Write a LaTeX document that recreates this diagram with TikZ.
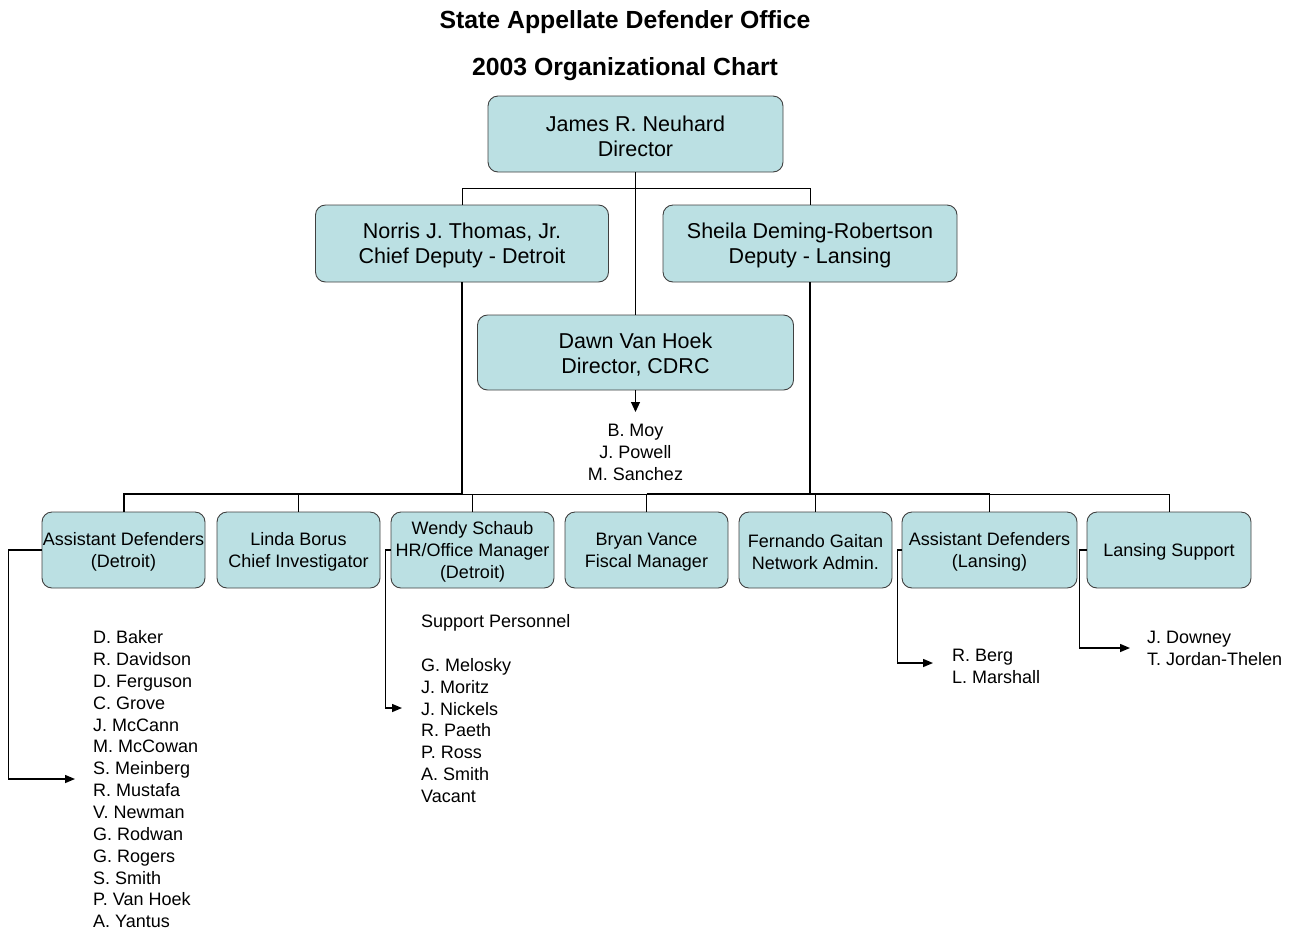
\documentclass[tikz,border=0pt]{standalone}
\usepackage{fontspec}
\setmainfont{Liberation Sans}
\usetikzlibrary{arrows.meta}
\definecolor{boxfill}{HTML}{BBE0E3}
\definecolor{boxline}{HTML}{404040}
\newcommand{\bigtop}{\rule{0pt}{19.7pt}}
\newcommand{\smalltop}{\rule{0pt}{17.1pt}}
\begin{document}
\begin{tikzpicture}[x=1pt,y=-1pt,
  orgbox/.style={draw=boxline, line width=0.9pt, fill=boxfill, rounded corners=10pt, align=center, inner sep=0pt, text=black},
  bigbox/.style={orgbox, minimum height=76pt, font=\fontsize{21.5}{25.5}\selectfont},
  smallbox/.style={orgbox, minimum height=76pt, font=\fontsize{18}{22}\selectfont},
  titletext/.style={inner sep=0pt, font=\fontsize{24.8}{28}\selectfont\bfseries},
  listtext/.style={inner sep=0pt, font=\fontsize{18}{21.85}\selectfont},
  conn/.style={line width=1pt},
  heavyconn/.style={line width=2pt},
  arr/.style={line width=1.5pt, -{Triangle[length=10pt,width=8pt]}}
]
\useasboundingbox (0,0) rectangle (1298,930);

% titles
\node[titletext] (t1) at (625,22) {State Appellate Defender Office};
\node[titletext] (t2) at (625,69) {2003 Organizational Chart};

% upper boxes
\node[bigbox, minimum width=295pt] (dir) at (635.5,134) {\bigtop James R. Neuhard\\Director};
\node[bigbox, minimum width=293pt, minimum height=77pt] (thomas) at (462,243.5) {\bigtop Norris J. Thomas, Jr.\\Chief Deputy - Detroit};
\node[bigbox, minimum width=294pt, minimum height=77pt] (deming) at (810,243.5) {\bigtop Sheila Deming-Robertson\\Deputy - Lansing};
\node[bigbox, minimum width=316pt, minimum height=75pt] (vanhoek) at (635.5,352.5) {\bigtop Dawn Van Hoek\\Director, CDRC};

% CDRC staff
\node[listtext, align=center, anchor=north, inner ysep=12pt] (cdrc) at (635.5,412) {B. Moy\\J. Powell\\M. Sanchez};

% bottom boxes
\node[smallbox, minimum width=163pt] (b1) at (123.5,550) {\smalltop Assistant Defenders\\(Detroit)};
\node[smallbox, minimum width=163pt] (b2) at (298.5,550) {\smalltop Linda Borus\\Chief Investigator};
\node[smallbox, minimum width=163pt] (b3) at (472.5,550) {\smalltop Wendy Schaub\\HR/Office Manager\\(Detroit)};
\node[smallbox, minimum width=163pt] (b4) at (646.5,550) {\smalltop Bryan Vance\\Fiscal Manager};
\node[smallbox, minimum width=153pt] (b5) at (815.5,550) {\smalltop Fernando Gaitan\\Network Admin.};
\node[smallbox, minimum width=175pt] (b6) at (989.5,550) {\smalltop Assistant Defenders\\(Lansing)};
\node[smallbox, minimum width=164pt] (b7) at (1169,550) {\smalltop Lansing Support};

% staff lists
\node[listtext, align=left, anchor=north west] (adlist) at (93,630.4) {D. Baker\\R. Davidson\\D. Ferguson\\C. Grove\\J. McCann\\M. McCowan\\S. Meinberg\\R. Mustafa\\V. Newman\\G. Rodwan\\G. Rogers\\S. Smith\\P. Van Hoek\\A. Yantus};
\node[listtext, align=left, anchor=north west] (splist) at (421,614.4) {Support Personnel\\[21.85pt]G. Melosky\\J. Moritz\\J. Nickels\\R. Paeth\\P. Ross\\A. Smith\\Vacant};
\node[listtext, align=left, anchor=north west] (allist) at (952,648.6) {R. Berg\\L. Marshall};
\node[listtext, align=left, anchor=north west] (lslist) at (1147,630.6) {J. Downey\\T. Jordan-Thelen};

% connectors, upper part
\coordinate (topbus) at (635.5,188);
\draw[conn] (dir.south) -- (vanhoek.north);
\draw[conn] (thomas.north) -- (thomas.north |- topbus) -- (deming.north |- topbus) -- (deming.north);
\draw[conn, -{Triangle[length=10pt,width=9pt]}] (vanhoek.south) -- (cdrc.north);

% connectors, lower bus
\coordinate (busd) at (462,494);
\draw[heavyconn] (thomas.south) -- (thomas.south |- busd);
\draw[heavyconn] (deming.south) -- (deming.south |- busd);
\draw[conn] (b2.north) -- (b2.north |- busd) -- (b7.north |- busd) -- (b7.north);
\draw[heavyconn] (b1.north) -- (b1.north |- busd) -- (thomas.south |- busd);
\draw[heavyconn] (b4.north |- busd) -- (b6.north |- busd);
\draw[conn] (b3.north) -- (b3.north |- busd);
\draw[conn] (b4.north) -- (b4.north |- busd);
\draw[conn] (b5.north) -- (b5.north |- busd);
\draw[conn] (b6.north) -- (b6.north |- busd);

% arrows to staff lists
\coordinate (adtip) at (75,779);
\coordinate (sptip) at (402,708);
\coordinate (altip) at (933,663);
\coordinate (lstip) at (1130,648);
\draw[arr] (b1.west) -- ([xshift=-33pt]b1.west) |- (adtip);
\draw[arr] (b3.west) -- ([xshift=-5pt]b3.west) |- (sptip);
\draw[arr] (b6.west) -- ([xshift=-4pt]b6.west) |- (altip);
\draw[arr] (b7.west) -- ([xshift=-7pt]b7.west) |- (lstip);
\end{tikzpicture}
\end{document}
